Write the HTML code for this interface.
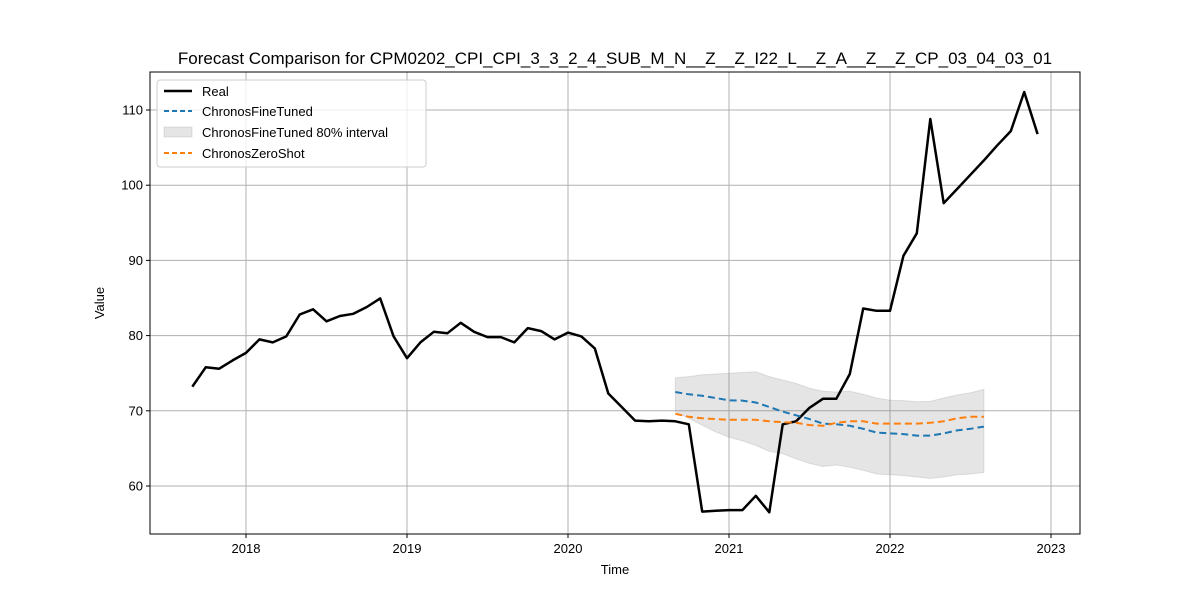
<!DOCTYPE html>
<html><head><meta charset="utf-8"><style>
body{margin:0;background:#fff;}
svg{display:block;font-family:"Liberation Sans","DejaVu Sans",sans-serif;}
</style></head><body>
<svg id="chart" width="1200" height="600" viewBox="0 0 1200 600" xmlns="http://www.w3.org/2000/svg"></svg>
<script>
// Data
const realStart = [2017, 9];
const realValues = [73.2,75.8,75.6,76.7,77.7,79.5,79.1,79.9,82.8,83.5,81.9,82.6,82.9,83.8,84.95,79.9,77.0,79.1,80.5,80.3,81.7,80.5,79.8,79.8,79.1,81.0,80.6,79.5,80.4,79.9,78.3,72.3,70.5,68.7,68.6,68.7,68.6,68.2,56.6,56.7,56.8,56.8,58.7,56.5,68.2,68.6,70.4,71.6,71.6,74.9,83.6,83.3,83.3,90.6,93.6,108.8,97.6,99.5,101.4,103.3,105.3,107.2,112.4,106.8];
const fcStart = [2020, 9];
const fineTuned = [72.5,72.2,72.0,71.7,71.4,71.35,71.1,70.5,69.9,69.4,68.9,68.3,68.2,68.0,67.6,67.1,67.0,66.9,66.7,66.7,67.0,67.4,67.6,67.9];
const zeroShot = [69.6,69.2,69.0,68.9,68.8,68.8,68.8,68.6,68.5,68.4,68.1,68.0,68.4,68.6,68.6,68.3,68.3,68.3,68.3,68.4,68.6,69.0,69.2,69.2];
const upper = [74.4,74.55,74.8,74.9,75.0,75.1,75.2,74.55,74.1,73.65,73.0,72.6,72.5,72.6,72.2,71.7,71.4,71.35,71.2,71.25,71.7,72.1,72.4,72.85];
const lower = [69.9,69.0,68.1,67.2,66.5,66.0,65.4,64.6,64.3,63.6,63.0,62.6,62.8,62.5,62.1,61.6,61.5,61.4,61.2,61.0,61.2,61.5,61.6,61.8];
const yTicks = [60,70,80,90,100,110];
const xTicks = [2018,2019,2020,2021,2022,2023];

const NS = "http://www.w3.org/2000/svg";
const svg = document.getElementById('chart');
const L=150,R=1080,T=72,B=534;
function xs(t){return 246+(t-2018)*161;}
function ys(v){return 110+(110-v)*7.52;}
function tOf(start,i){return start[0]+(start[1]-1+i)/12;}
function mk(tag,attrs,parent){const e=document.createElementNS(NS,tag);for(const k in attrs)e.setAttribute(k,attrs[k]);(parent||svg).appendChild(e);return e;}
function pts(start,arr){return arr.map((v,i)=>xs(tOf(start,i)).toFixed(1)+','+ys(v).toFixed(1)).join(' ');}

// grid
xTicks.forEach(t=>{
  const g=mk('line',{x1:xs(t),x2:xs(t),y1:T,y2:B,stroke:'#b0b0b0','stroke-width':1});
  
  
  mk('line',{x1:xs(t),x2:xs(t),y1:B,y2:B+4,stroke:'#000'});
  const tx=mk('text',{x:xs(t),y:B+19,'font-size':13,'text-anchor':'middle'});
  tx.textContent=t;
  
  
});
yTicks.forEach(v=>{
  const g=mk('line',{x1:L,x2:R,y1:ys(v),y2:ys(v),stroke:'#b0b0b0','stroke-width':1});
  
  
  mk('line',{x1:L-4,x2:L,y1:ys(v),y2:ys(v),stroke:'#000'});
  const tx=mk('text',{x:L-7,y:ys(v)+4.5,'font-size':13,'text-anchor':'end'});
  tx.textContent=v;
  
  
});

// band
const bandPts = upper.map((v,i)=>xs(tOf(fcStart,i))+','+ys(v)).concat(lower.map((v,i)=>xs(tOf(fcStart,i))+','+ys(v)).reverse()).join(' ');
const band=mk('polygon',{points:bandPts,fill:'#7f7f7f','fill-opacity':0.2,stroke:'#7f7f7f','stroke-opacity':0.2});



const real=mk('polyline',{points:pts(realStart,realValues),fill:'none',stroke:'#000','stroke-width':2.5,'stroke-linejoin':'round'});


const ft=mk('polyline',{points:pts(fcStart,fineTuned),fill:'none',stroke:'#1f77b4','stroke-width':2,'stroke-dasharray':'7,4'});


const zs=mk('polyline',{points:pts(fcStart,zeroShot),fill:'none',stroke:'#ff7f0e','stroke-width':2,'stroke-dasharray':'7,4'});



// frame
const fr=mk('rect',{x:L,y:T,width:R-L,height:B-T,fill:'none',stroke:'#000','stroke-width':1});


</script>
<svg style="position:absolute;left:0;top:0" width="1200" height="600">
  <text x="615" y="64" font-size="17" text-anchor="middle">Forecast Comparison for CPM0202_CPI_CPI_3_3_2_4_SUB_M_N__Z__Z_I22_L__Z_A__Z__Z_CP_03_04_03_01</text>
  <text x="615" y="574" font-size="13" text-anchor="middle">Time</text>
  <text x="104" y="303" font-size="13" text-anchor="middle" transform="rotate(-90 104 303)">Value</text>
  <g>
    <rect x="157" y="80" width="269" height="87" rx="3" fill="#fff" fill-opacity="0.8" stroke="#ccc"/>
    <line x1="164" y1="91" x2="192" y2="91" stroke="#000" stroke-width="2.5"/>
    <text x="202" y="96" font-size="13">Real</text>
    <line x1="164" y1="111" x2="192" y2="111" stroke="#1f77b4" stroke-width="2" stroke-dasharray="5,3"/>
    <text x="202" y="116" font-size="13">ChronosFineTuned</text>
    <rect x="164" y="127" width="28" height="10" fill="#7f7f7f" fill-opacity="0.2" stroke="#7f7f7f" stroke-opacity="0.2"/>
    <text x="202" y="137" font-size="13">ChronosFineTuned 80% interval</text>
    <line x1="164" y1="153" x2="192" y2="153" stroke="#ff7f0e" stroke-width="2" stroke-dasharray="5,3"/>
    <text x="202" y="158" font-size="13">ChronosZeroShot</text>
  </g>
</svg>
</body></html>
